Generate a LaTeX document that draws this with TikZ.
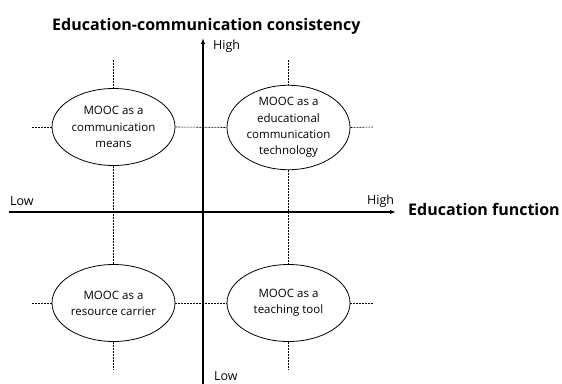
\documentclass[tikz,border=0pt]{standalone}
\usepackage{fontspec}
\setmainfont{Open Sans}
\usetikzlibrary{shapes.geometric,arrows.meta}
\begin{document}
\begin{tikzpicture}[x=1pt,y=-1pt,
  quad/.style={ellipse,draw,line width=0.8pt,fill=white,minimum width=123pt,
    minimum height=77pt,inner sep=0pt,align=center,font=\fontsize{11.5}{16.2}\selectfont},
  axis/.style={line width=1.1pt,-{Latex[length=6pt,width=4.5pt]}},
  guide/.style={line width=0.6pt,dash pattern=on 2pt off 1pt},
  axlabel/.style={anchor=base west,inner sep=0pt,font=\fontsize{12.5}{14}\selectfont},
  axtitle/.style={anchor=base west,inner sep=0pt,font=\fontsize{16}{18}\selectfont\bfseries}]
\useasboundingbox (0,0) rectangle (562,383);
\clip (0,0) rectangle (562,383);

% axes
\coordinate (yfoot) at (203,390);
\coordinate (ytip) at (203,38);
\coordinate (xfoot) at (9,212);
\coordinate (xtip) at (396,212);
\draw[axis] (xfoot) -- (xtip);
\draw[axis] (yfoot) -- (ytip);

% the four quadrants
\node[quad] (tl) at (113.5,127) {MOOC as a\\communication\\means};
\node[quad] (tr) at (288.5,127.5) {MOOC as a\\educational\\communication\\technology};
\node[quad] (bl) at (113.5,303) {MOOC as a\\resource carrier};
\node[quad] (br) at (288.5,303) {MOOC as a\\teaching tool};

% dotted guides through the quadrant centres
\coordinate (gtl) at (113.5,60);
\coordinate (gbl) at (113.5,370);
\coordinate (gtr) at (288.5,60);
\coordinate (gbr) at (288.5,370);
\coordinate (glt) at (32,127);
\coordinate (grt) at (373,127);
\coordinate (glb) at (32,303);
\coordinate (grb) at (373,303);
\draw[guide] (gtl) -- (tl.north);
\draw[guide] (tl.south) -- (bl.north);
\draw[guide] (bl.south) -- (gbl);
\draw[guide] (gtr) -- (tr.north);
\draw[guide] (tr.south) -- (br.north);
\draw[guide] (br.south) -- (gbr);
\draw[guide] (glt) -- (tl.west);
\draw[guide] (tl.east) -- (tr.west);
\draw[guide] (tr.east) -- (grt);
\draw[guide] (glb) -- (bl.west);
\draw[guide] (bl.east) -- (br.west);
\draw[guide] (br.east) -- (grb);

% labels
\node[axtitle] (ttl) at (52,30.5) {Education-communication consistency};
\node[axtitle] (xttl) at (408,215.7) {Education function};
\node[axlabel] (yhigh) at (213,49.3) {High};
\node[axlabel] (ylow) at (214,380.5) {Low};
\node[axlabel] (xhigh) at (367,204) {High};
\node[axlabel] (xlow) at (10,205) {Low};
\end{tikzpicture}
\end{document}
